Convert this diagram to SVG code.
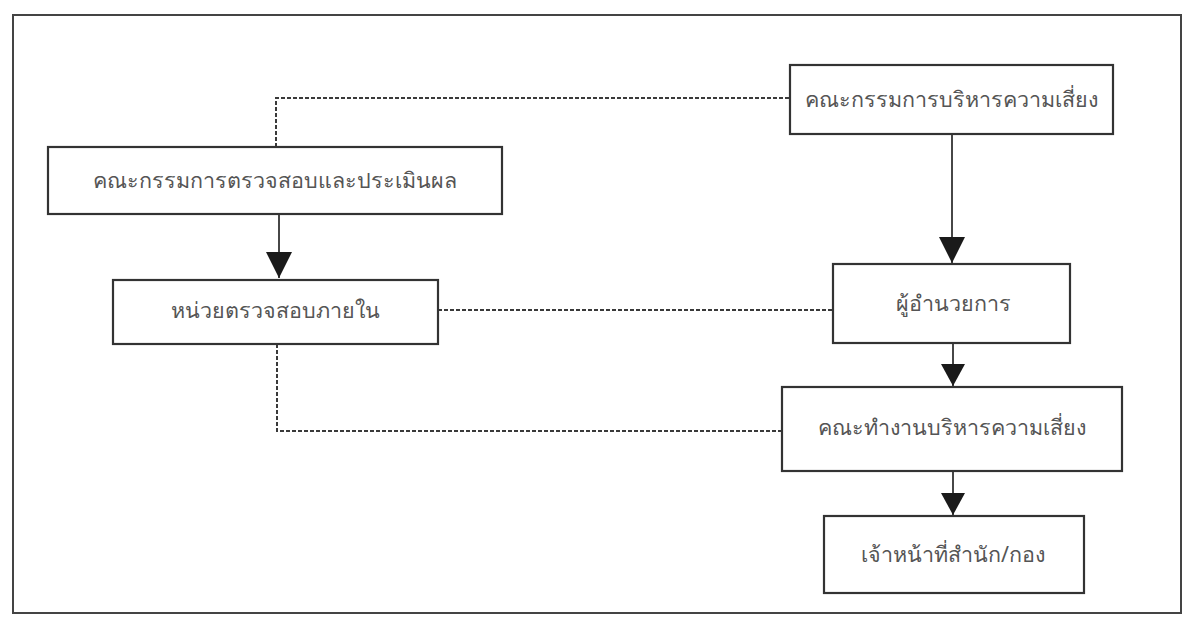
<svg xmlns="http://www.w3.org/2000/svg" width="1193" height="624" viewBox="0 0 1193 624">
  <style>
    .box { fill: #ffffff; stroke: #333333; stroke-width: 2.2; }
    .lbl { font-family: "Noto Sans", "DejaVu Sans", sans-serif; font-size: 21.5px; fill: #555555; text-anchor: middle; }
    .solid { fill: none; stroke: #333333; stroke-width: 1.8; }
    .dot { fill: none; stroke: #3a3a3a; stroke-width: 2; stroke-dasharray: 4 2; }
  </style>
  <defs>
    <marker id="arr" viewBox="0 0 26 28" refX="26" refY="13" markerWidth="26" markerHeight="28" markerUnits="userSpaceOnUse" orient="auto">
      <path d="M0,0 L26,13 L0,26 Z" fill="#1a1a1a"/>
    </marker>
    <marker id="arrS" viewBox="0 0 22 24" refX="22" refY="12" markerWidth="22" markerHeight="24" markerUnits="userSpaceOnUse" orient="auto">
      <path d="M0,0 L22,12 L0,24 Z" fill="#1a1a1a"/>
    </marker>
  </defs>
  <rect x="0" y="0" width="1193" height="624" fill="#ffffff"/>
  <rect x="13" y="15" width="1168" height="598" fill="none" stroke="#444444" stroke-width="2"/>

  <g id="connectors">
    <polyline class="dot" points="789,98 276,98 276,147"/>
    <line class="dot" x1="438" y1="310" x2="832" y2="310"/>
    <polyline class="dot" points="277,344 277,431 782,431"/>
    <line class="solid" x1="279" y1="214" x2="279" y2="278" marker-end="url(#arr)"/>
    <line class="solid" x1="952" y1="134" x2="952" y2="263" marker-end="url(#arr)"/>
    <line class="solid" x1="953" y1="343" x2="953" y2="386" marker-end="url(#arrS)"/>
    <line class="solid" x1="953" y1="471" x2="953" y2="515" marker-end="url(#arrS)"/>
  </g>

  <g id="node-risk-committee">
    <rect class="box" x="790" y="65" width="323" height="69"/>
    <text class="lbl" x="951" y="107">คณะกรรมการบริหารความเสี่ยง</text>
  </g>
  <g id="node-audit-committee">
    <rect class="box" x="48" y="147" width="454" height="67"/>
    <text class="lbl" x="275" y="188">คณะกรรมการตรวจสอบและประเมินผล</text>
  </g>
  <g id="node-internal-audit">
    <rect class="box" x="113" y="280" width="325" height="64"/>
    <text class="lbl" x="275" y="318">หน่วยตรวจสอบภายใน</text>
  </g>
  <g id="node-director">
    <rect class="box" x="833" y="264" width="237" height="79"/>
    <text class="lbl" x="953" y="311">ผู้อำนวยการ</text>
  </g>
  <g id="node-risk-workgroup">
    <rect class="box" x="782" y="387" width="340" height="84"/>
    <text class="lbl" x="952" y="435">คณะทำงานบริหารความเสี่ยง</text>
  </g>
  <g id="node-staff">
    <rect class="box" x="824" y="516" width="260" height="77"/>
    <text class="lbl" x="953" y="562">เจ้าหน้าที่สำนัก/กอง</text>
  </g>
</svg>
